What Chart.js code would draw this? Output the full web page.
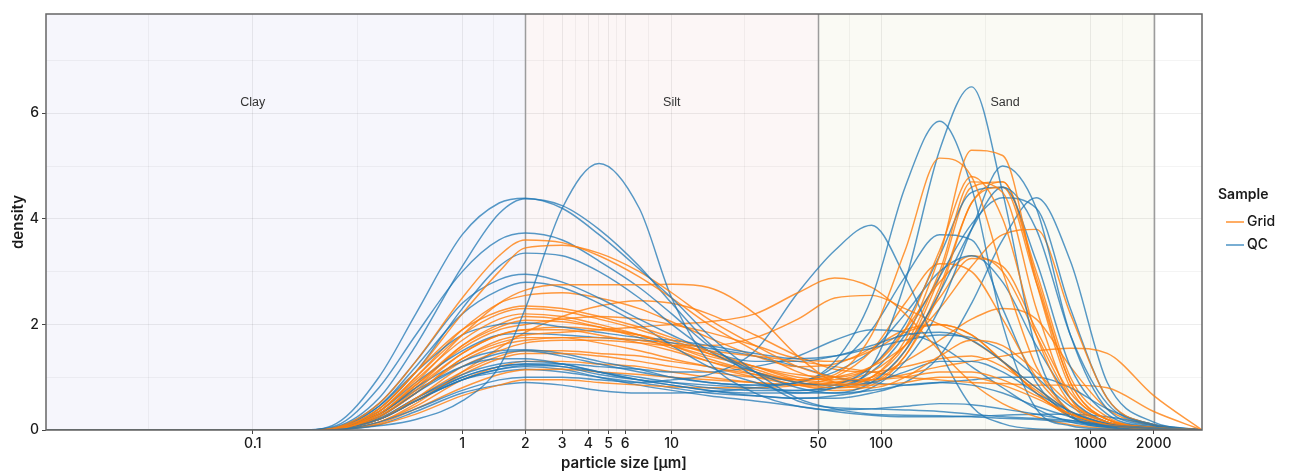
<!DOCTYPE html>
<html>
<head>
<meta charset="utf-8">
<script src="https://cdn.jsdelivr.net/npm/chart.js@4.4.1/dist/chart.umd.min.js"></script>
<style>
  html, body { margin: 0; padding: 0; background: #fff; }
  #wrap { width: 1289px; height: 473px; }
</style>
</head>
<body>
<div id="wrap"><canvas id="chart" width="1289" height="473"></canvas></div>
<script>
// particle sizes (µm) where every curve is sampled
const sizes = [0.0103, 0.17, 0.25, 0.4, 0.6, 1, 1.5, 2, 3, 4.5, 7, 10, 15, 25, 40, 60, 90, 130, 190, 270, 380, 550, 800, 1200, 2000, 3400];

// density values, Grid samples
const gridCurves = [
  [0,0,0.05,0.5,1.3,2.5,3.3,3.6,3.55,3.3,2.9,2.5,2.0,1.5,1.1,0.9,0.85,0.9,1.0,1.0,0.85,0.6,0.3,0.1,0.03,0],
  [0,0,0.04,0.4,1.1,2.2,3.0,3.45,3.5,3.35,3.0,2.6,2.1,1.6,1.2,1.0,0.95,1.0,1.1,1.1,0.95,0.65,0.3,0.1,0.03,0],
  [0,0,0.02,0.3,0.9,1.8,2.4,2.65,2.75,2.75,2.75,2.76,2.7,2.2,1.4,0.9,0.8,1.0,1.4,1.7,1.6,1.1,0.5,0.15,0.04,0],
  [0,0,0.03,0.4,1.1,1.9,2.25,2.35,2.3,2.15,1.95,1.75,1.5,1.2,0.95,0.85,1.0,1.7,3.3,5.3,5.2,2.8,0.8,0.2,0.05,0],
  [0,0,0.03,0.35,1.0,1.8,2.2,2.3,2.25,2.1,1.9,1.7,1.45,1.15,0.95,1.05,1.8,3.4,5.15,4.8,3.0,1.2,0.35,0.1,0.03,0],
  [0,0,0.03,0.35,0.95,1.7,2.1,2.2,2.15,2.0,1.8,1.6,1.35,1.1,0.9,0.85,1.0,1.6,3.0,4.7,4.5,2.3,0.6,0.15,0.04,0],
  [0,0,0.02,0.3,0.85,1.6,1.95,2.08,2.05,1.95,1.8,1.6,1.4,1.2,1.05,1.0,1.2,1.9,3.4,4.8,4.0,1.8,0.5,0.12,0.03,0],
  [0,0,0.02,0.25,0.75,1.45,1.8,1.9,1.9,1.8,1.65,1.5,1.3,1.1,0.9,0.8,0.9,1.4,2.6,4.3,4.6,2.8,0.9,0.2,0.05,0],
  [0,0,0.02,0.25,0.7,1.35,1.7,1.8,1.85,1.9,1.95,2.0,2.05,2.2,2.6,2.88,2.7,2.2,1.5,0.9,0.5,0.25,0.1,0.03,0.01,0],
  [0,0,0.02,0.2,0.6,1.2,1.5,1.65,1.7,1.7,1.65,1.6,1.6,1.75,2.1,2.5,2.55,2.3,2.0,1.7,1.3,0.8,0.35,0.1,0.03,0],
  [0,0,0.02,0.2,0.55,1.05,1.35,1.45,1.45,1.4,1.3,1.2,1.1,1.0,0.95,1.0,1.2,1.6,2.3,3.1,3.7,3.8,2.2,0.6,0.1,0],
  [0,0,0.01,0.12,0.4,0.8,1.05,1.14,1.15,1.1,1.05,1.0,0.95,0.9,0.85,0.9,1.1,1.6,2.5,3.25,3.1,1.9,0.7,0.2,0.05,0],
  [0,0,0.01,0.1,0.3,0.65,0.85,0.95,0.95,0.9,0.85,0.82,0.8,0.8,0.85,1.0,1.5,2.4,3.15,3.0,2.1,1.0,0.35,0.1,0.03,0],
  [0,0,0.02,0.2,0.6,1.1,1.4,1.5,1.5,1.45,1.4,1.3,1.2,1.05,0.95,0.9,0.95,1.05,1.2,1.3,1.4,1.5,1.55,1.45,0.65,0],
  [0,0,0.02,0.25,0.7,1.3,1.6,1.7,1.75,1.75,1.7,1.6,1.5,1.4,1.3,1.2,1.1,1.0,0.95,0.9,0.88,0.85,0.85,0.8,0.35,0],
  [0,0,0.03,0.3,0.85,1.55,1.9,2.0,2.1,2.15,2.1,2.0,1.85,1.6,1.35,1.3,1.5,1.85,2.0,1.8,1.3,0.7,0.25,0.08,0.02,0],
  [0,0,0.02,0.25,0.7,1.35,1.65,1.75,1.75,1.65,1.5,1.35,1.2,1.0,0.85,0.75,0.85,1.4,2.7,4.3,4.7,2.9,0.9,0.2,0.05,0],
  [0,0,0.01,0.15,0.5,1.1,1.55,1.85,2.15,2.35,2.45,2.4,2.2,1.8,1.4,1.15,1.1,1.2,1.35,1.4,1.2,0.75,0.3,0.1,0.03,0],
  [0,0,0.02,0.3,0.8,1.6,2.0,2.15,2.1,1.95,1.75,1.55,1.3,1.05,0.85,0.8,0.95,1.5,2.9,4.6,4.7,3.0,1.0,0.25,0.05,0],
  [0,0,0.01,0.15,0.45,0.95,1.2,1.3,1.3,1.25,1.2,1.1,1.0,0.9,0.85,0.9,1.0,1.3,1.7,2.1,2.3,2.1,1.2,0.4,0.08,0],
  [0,0,0.02,0.28,0.8,1.45,1.8,1.9,1.95,1.9,1.8,1.65,1.45,1.2,1.0,0.95,1.2,1.9,2.8,3.3,3.0,1.8,0.6,0.15,0.03,0],
  [0,0,0.03,0.35,1.0,1.9,2.4,2.55,2.6,2.5,2.3,2.05,1.75,1.4,1.2,1.25,1.55,1.9,2.0,1.8,1.3,0.7,0.25,0.08,0.02,0]
];

// density values, QC samples
const qcCurves = [
  [0,0,0.12,1.0,2.2,3.7,4.3,4.39,4.2,3.7,3.05,2.5,1.8,1.1,0.6,0.4,0.3,0.28,0.27,0.25,0.22,0.2,0.15,0.08,0.03,0],
  [0,0,0.06,0.6,1.6,3.1,4.1,4.38,4.25,3.8,3.1,2.4,1.65,1.0,0.55,0.42,0.4,0.38,0.35,0.3,0.25,0.22,0.18,0.1,0.04,0],
  [0,0,0.01,0.08,0.2,0.55,1.2,2.3,4.2,5.05,4.2,2.5,1.3,0.7,0.45,0.38,0.4,0.45,0.5,0.48,0.4,0.3,0.18,0.08,0.03,0],
  [0,0,0.08,0.8,1.8,3.0,3.6,3.73,3.6,3.2,2.7,2.2,1.6,1.1,0.8,0.7,0.75,0.85,0.9,0.85,0.7,0.45,0.25,0.1,0.03,0],
  [0,0,0.03,0.4,1.1,2.3,3.1,3.35,3.3,3.0,2.5,2.0,1.5,1.1,0.9,0.85,0.9,1.1,1.3,1.3,1.1,0.7,0.35,0.12,0.04,0],
  [0,0,0.05,0.5,1.3,2.4,2.85,2.95,2.8,2.5,2.1,1.8,1.5,1.3,1.3,1.4,1.6,1.8,1.85,1.7,1.3,0.8,0.35,0.12,0.04,0],
  [0,0,0.04,0.45,1.2,2.2,2.65,2.8,2.7,2.4,2.0,1.6,1.2,0.9,0.7,0.7,0.9,1.5,2.6,3.8,4.6,3.8,1.8,0.5,0.1,0],
  [0,0,0.02,0.2,0.55,1.0,1.2,1.25,1.2,1.05,0.95,0.9,0.85,0.8,0.75,0.8,1.2,2.8,5.3,6.5,4.5,1.5,0.3,0.05,0.01,0],
  [0,0,0.02,0.25,0.7,1.2,1.45,1.5,1.4,1.25,1.1,1.0,0.9,0.85,0.9,1.3,2.5,4.6,5.85,4.6,2.0,0.4,0.08,0.02,0.01,0],
  [0,0,0.01,0.15,0.4,0.75,0.95,1.0,1.0,0.95,0.9,0.95,1.05,1.5,2.6,3.4,3.88,2.9,1.5,0.45,0.12,0.02,0.01,0,0,0],
  [0,0,0.02,0.22,0.6,1.05,1.25,1.3,1.25,1.1,0.95,0.85,0.75,0.65,0.6,0.65,0.8,1.3,2.3,3.8,5.0,4.2,1.8,0.4,0.08,0],
  [0,0,0.02,0.2,0.55,0.95,1.15,1.22,1.2,1.1,1.0,0.9,0.8,0.75,0.75,0.85,1.2,2.0,3.3,4.5,4.6,3.2,1.2,0.3,0.06,0],
  [0,0,0.03,0.3,0.75,1.2,1.35,1.35,1.25,1.1,0.95,0.85,0.75,0.7,0.7,0.8,1.1,1.8,2.9,3.9,4.4,4.2,2.3,0.6,0.1,0],
  [0,0,0.03,0.3,0.8,1.3,1.5,1.52,1.45,1.3,1.15,1.0,0.9,0.85,0.9,1.2,1.9,2.9,3.7,3.6,2.3,0.9,0.25,0.06,0.02,0],
  [0,0,0.04,0.45,1.1,1.8,2.0,2.03,1.95,1.85,1.75,1.7,1.6,1.45,1.35,1.4,1.55,1.7,1.8,1.75,1.5,1.0,0.45,0.15,0.05,0],
  [0,0,0.03,0.35,0.9,1.5,1.8,1.83,1.8,1.75,1.7,1.65,1.55,1.4,1.2,1.0,0.9,0.85,0.9,0.95,1.0,1.0,0.8,0.4,0.1,0],
  [0,0,0.01,0.1,0.35,0.7,0.85,0.9,0.85,0.75,0.7,0.7,0.72,0.8,0.9,1.1,1.5,2.2,3.0,3.3,2.8,1.6,0.6,0.15,0.04,0],
  [0,0,0.02,0.2,0.55,0.95,1.1,1.15,1.1,1.0,0.9,0.8,0.7,0.65,0.6,0.6,0.7,0.9,1.4,2.4,3.6,4.4,3.2,0.9,0.15,0],
  [0,0,0.02,0.2,0.6,1.0,1.2,1.25,1.25,1.2,1.15,1.1,1.1,1.2,1.4,1.7,1.9,1.85,1.6,1.2,0.8,0.4,0.15,0.05,0.02,0],
  [0,0,0.02,0.2,0.55,0.95,1.15,1.2,1.15,1.0,0.85,0.75,0.65,0.55,0.45,0.35,0.28,0.25,0.25,0.26,0.28,0.3,0.3,0.25,0.1,0]
];

// axis breaks
const xBreaks = [0.1, 1, 2, 3, 4, 5, 6, 10, 50, 100, 1000, 2000];
const yBreaks = [0, 2, 4, 6];

// soil fractions
const zoneNames = ['Clay', 'Silt', 'Sand'];
const zoneFrom = [0.0103, 2, 50];
const zoneTo = [2, 50, 2000];
const zoneLabelAt = [0.1, 10, 390];

const X_MIN = 0.0103, X_MAX = 3400, Y_MAX = 7.88;
const ORANGE = 'rgba(255,127,14,0.8)';
const BLUE = 'rgba(31,119,180,0.75)';
const zoneFill = ['#f6f6fc', '#fcf6f6', '#fafaf4'];

// minor breaks: geometric midpoints between breaks, plus one before the first
const xMinor = [xBreaks[0] / Math.sqrt(10)];
for (let i = 0; i < xBreaks.length - 1; i++) xMinor.push(Math.sqrt(xBreaks[i] * xBreaks[i + 1]));
const xAll = xBreaks.concat(xMinor).sort((a, b) => a - b);
const isXBreak = v => xBreaks.some(b => Math.abs(b - v) < 1e-9);

function toPoints(row) {
  return row.map((y, i) => ({ x: sizes[i], y: y }));
}

const datasets = [];
const n = Math.max(gridCurves.length, qcCurves.length);
for (let i = 0; i < n; i++) {
  if (qcCurves[i]) datasets.push({ label: 'QC', data: toPoints(qcCurves[i]), borderColor: BLUE });
  if (gridCurves[i]) datasets.push({ label: 'Grid', data: toPoints(gridCurves[i]), borderColor: ORANGE });
}

const FONT = 'Inter, "Open Sans", sans-serif';

const panelPlugin = {
  id: 'panel',
  beforeDatasetsDraw(chart) {
    const { ctx, chartArea: a, scales: { x, y } } = chart;
    ctx.save();
    // dividers between fractions
    ctx.strokeStyle = '#9c9c9c';
    ctx.lineWidth = 1.5;
    [2, 50, 2000].forEach(v => {
      const px = Math.round(x.getPixelForValue(v)) + 0.5;
      ctx.beginPath();
      ctx.moveTo(px, a.top);
      ctx.lineTo(px, a.bottom);
      ctx.stroke();
    });
    // fraction names
    ctx.fillStyle = '#333';
    ctx.font = '12.5px "Liberation Sans", Arial, sans-serif';
    ctx.textAlign = 'center';
    ctx.textBaseline = 'middle';
    zoneNames.forEach((name, i) => {
      ctx.fillText(name, x.getPixelForValue(zoneLabelAt[i]), y.getPixelForValue(6.2));
    });
    ctx.restore();
  },
  beforeDraw(chart) {
    const { ctx, chartArea: a, scales: { x } } = chart;
    ctx.save();
    ctx.fillStyle = '#fff';
    ctx.fillRect(a.left, a.top, a.width, a.height);
    zoneNames.forEach((name, i) => {
      const x0 = x.getPixelForValue(zoneFrom[i]);
      const x1 = x.getPixelForValue(zoneTo[i]);
      ctx.fillStyle = zoneFill[i];
      ctx.fillRect(x0, a.top, x1 - x0, a.height);
    });
    ctx.restore();
  },
  afterDraw(chart) {
    const { ctx, chartArea: a } = chart;
    ctx.save();
    ctx.strokeStyle = '#666';
    ctx.lineWidth = 1.5;
    ctx.strokeRect(a.left, a.top, a.width, a.height);

    // axis titles
    ctx.fillStyle = '#1a1a1a';
    ctx.font = '600 15px ' + FONT;
    ctx.textAlign = 'center';
    ctx.textBaseline = 'middle';
    ctx.fillText('particle size [µm]', (a.left + a.right) / 2, 463);
    ctx.translate(18, (a.top + a.bottom) / 2);
    ctx.rotate(-Math.PI / 2);
    ctx.fillText('density', 0, 0);
    ctx.setTransform(1, 0, 0, 1, 0, 0);

    // legend
    ctx.textAlign = 'left';
    ctx.font = '600 14px ' + FONT;
    ctx.fillText('Sample', 1218, 195);
    ctx.font = '500 14px ' + FONT;
    [['Grid', ORANGE, 222], ['QC', BLUE, 245]].forEach(([lab, col, ly]) => {
      ctx.strokeStyle = col;
      ctx.lineWidth = 1.6;
      ctx.beginPath();
      ctx.moveTo(1226, ly);
      ctx.lineTo(1244, ly);
      ctx.stroke();
      ctx.fillText(lab, 1247, ly);
    });
    ctx.restore();
  }
};

new Chart(document.getElementById('chart'), {
  type: 'line',
  data: { datasets: datasets },
  options: {
    responsive: false,
    animation: false,
    devicePixelRatio: 1,
    layout: { padding: { top: 14, right: 87, left: 0, bottom: 0 } },
    elements: {
      line: { borderWidth: 1.45, cubicInterpolationMode: 'monotone', fill: false },
      point: { radius: 0, hoverRadius: 0 }
    },
    plugins: { legend: { display: false }, tooltip: { enabled: false } },
    scales: {
      x: {
        type: 'logarithmic',
        min: X_MIN,
        max: X_MAX,
        afterBuildTicks: s => { s.ticks = xAll.map(v => ({ value: v })); },
        afterFit: s => { s.height = 43; },
        border: { display: false },
        grid: {
          color: c => isXBreak(c.tick.value) ? 'rgba(0,0,0,0.07)' : 'rgba(0,0,0,0.045)',
          tickColor: c => isXBreak(c.tick.value) ? '#444' : 'rgba(0,0,0,0)',
          tickLength: 4,
          lineWidth: 1
        },
        ticks: {
          autoSkip: false,
          maxRotation: 0,
          padding: 1,
          color: '#1a1a1a',
          font: { family: FONT, size: 14, weight: 500 },
          callback: v => isXBreak(v) ? String(v) : ''
        }
      },
      y: {
        min: 0,
        max: Y_MAX,
        afterBuildTicks: s => { s.ticks = [0, 1, 2, 3, 4, 5, 6, 7].map(v => ({ value: v })); },
        afterFit: s => { s.width = 46; },
        border: { display: false },
        grid: {
          color: c => yBreaks.includes(c.tick.value) ? 'rgba(0,0,0,0.07)' : 'rgba(0,0,0,0.045)',
          tickColor: c => yBreaks.includes(c.tick.value) ? '#444' : 'rgba(0,0,0,0)',
          tickLength: 4
        },
        ticks: {
          padding: 3,
          color: '#1a1a1a',
          font: { family: FONT, size: 14, weight: 500 },
          callback: v => yBreaks.includes(v) ? String(v) : ''
        }
      }
    }
  },
  plugins: [panelPlugin]
});
</script>
</body>
</html>
